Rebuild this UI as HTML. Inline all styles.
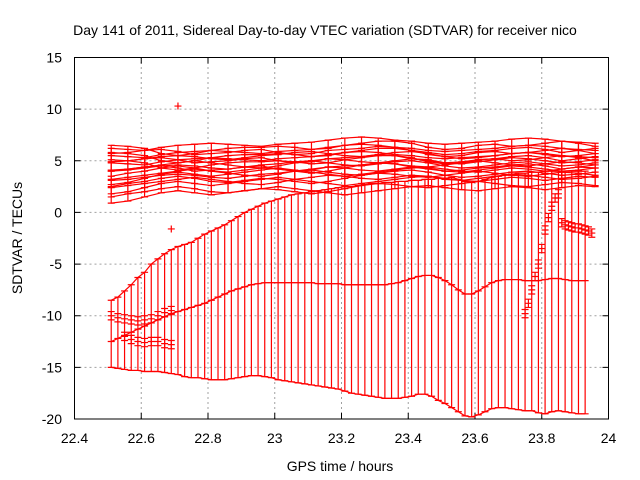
<!DOCTYPE html>
<html><head><meta charset="utf-8">
<style>
html,body{margin:0;padding:0;background:#fff;}
svg{display:block;font-family:"Liberation Sans",sans-serif;}
</style></head>
<body>
<svg id="chart" width="640" height="480" viewBox="0 0 640 480" xmlns="http://www.w3.org/2000/svg">
<rect x="0" y="0" width="640" height="480" fill="#fff"/>
<text x="325" y="35" font-size="14" text-anchor="middle" fill="#000">Day 141 of 2011, Sidereal Day-to-day VTEC variation (SDTVAR) for receiver nico</text>
<text x="340" y="471" font-size="14" text-anchor="middle" fill="#000">GPS time / hours</text>
<text x="22" y="238" font-size="14" text-anchor="middle" fill="#000" transform="rotate(-90 22 238)">SDTVAR / TECUs</text>
<g id="grid"></g>
<g id="ticks"></g>
<g id="series"></g>
<rect x="74.5" y="57.5" width="534" height="361.5" fill="none" stroke="#000" stroke-width="1"/>
</svg>
<script>
const xTicks = [22.4,22.6,22.8,23,23.2,23.4,23.6,23.8,24];
const xTickLabels = ["22.4","22.6","22.8","23","23.2","23.4","23.6","23.8","24"];
const yTicks = [-20,-15,-10,-5,0,5,10,15];
const yTickLabels = ["-20","-15","-10","-5","0","5","10","15"];

// Main wide series: x = 22.51 + 0.02*i
const mainStart = 22.51, mainStep = 0.02;
const mainCenter = [-12.5,-12.2,-11.9,-11.6,-11.3,-11.0,-10.7,-10.4,-10.1,-9.8,-9.6,-9.4,-9.2,-9.0,-8.8,-8.5,-8.2,-7.9,-7.6,-7.4,-7.2,-7.0,-6.9,-6.8,-6.8,-6.8,-6.8,-6.8,-6.8,-6.8,-6.8,-6.9,-6.9,-6.9,-6.9,-7.0,-7.0,-7.0,-7.0,-7.0,-7.0,-7.0,-6.9,-6.8,-6.6,-6.4,-6.2,-6.1,-6.1,-6.3,-6.6,-7.0,-7.5,-7.9,-7.9,-7.6,-7.2,-6.8,-6.6,-6.5,-6.5,-6.5,-6.6,-6.6,-6.6,-6.5,-6.4,-6.4,-6.5,-6.6,-6.6,-6.6];
const mainLow = [-15,-15.1,-15.2,-15.3,-15.3,-15.4,-15.4,-15.4,-15.5,-15.6,-15.7,-15.9,-16.0,-16.0,-16.1,-16.2,-16.2,-16.2,-16.1,-16.0,-15.9,-15.8,-15.8,-15.9,-16.0,-16.2,-16.3,-16.4,-16.5,-16.6,-16.7,-16.8,-16.9,-17.0,-17.1,-17.3,-17.5,-17.6,-17.7,-17.8,-17.9,-18.0,-18.0,-18.0,-17.9,-17.8,-17.6,-17.6,-17.8,-18.2,-18.5,-18.9,-19.3,-19.7,-19.8,-19.6,-19.3,-19.0,-18.9,-18.9,-19.0,-19.1,-19.2,-19.2,-19.4,-19.5,-19.3,-19.2,-19.3,-19.4,-19.5,-19.5];
const mainHigh = [-8.5,-8.2,-7.6,-7.0,-6.3,-5.8,-5.0,-4.5,-4.0,-3.6,-3.3,-3.1,-2.9,-2.5,-2.1,-1.8,-1.5,-1.2,-0.8,-0.4,0.0,0.3,0.6,0.9,1.1,1.3,1.5,1.7,1.8,1.9,2.0,2.1,2.2,2.3,2.4,2.5,2.5,2.6,2.7,2.8,2.8,2.9,2.9,3.0,3.0,3.1,3.1,3.2,3.2,3.3,3.3,3.4,3.2,3.0,2.9,3.0,3.2,3.4,3.5,3.6,3.7,3.8,3.8,3.9,3.9,4.0,4.0,4.0,4.0,4.0,4.0,4.0];

// Band series: x = 22.51 + 0.05*i
const bandStart = 22.51, bandStep = 0.05;
const band1 = [5.8,5.7,5.5,5.0,4.8,5.0,5.3,5.5,5.6,5.6,5.7,5.6,5.4,5.5,5.8,6.0,6.2,6.2,6.0,5.6,5.4,5.5,5.8,5.9,5.7,5.8,6.0,6.2,6.0,5.7];
const band2 = [4.9,5.0,5.2,5.3,5.1,4.8,4.9,5.0,5.2,5.3,5.0,4.8,4.9,5.2,5.3,5.4,5.6,5.5,5.2,5.0,4.8,4.9,5.1,5.2,5.4,5.5,5.3,5.0,5.2,5.4];
const band3 = [4.0,4.1,4.3,4.5,4.6,4.5,4.3,4.2,4.4,4.6,4.7,4.9,5.0,4.8,4.6,4.5,4.7,4.9,5.0,4.8,4.5,4.3,4.4,4.6,4.8,4.9,4.7,4.5,4.6,4.8];
const band4 = [3.2,3.4,3.6,3.8,4.0,4.2,4.0,3.8,3.6,3.5,3.7,4.0,4.2,4.4,4.3,4.1,4.0,4.2,4.4,4.3,4.0,3.9,4.1,4.3,4.5,4.4,4.2,4.0,4.1,4.3];
const band5 = [2.5,2.8,3.0,3.3,3.5,3.3,3.0,2.9,3.1,3.3,3.2,3.0,2.8,3.0,3.3,3.6,3.8,3.7,3.5,3.4,3.6,3.8,4.0,3.8,3.6,3.5,3.7,3.9,3.8,3.6];
const band6 = [1.8,2.0,2.4,2.8,3.0,2.8,2.6,2.8,3.0,3.2,3.4,3.2,3.0,2.8,2.6,2.8,3.0,3.2,3.4,3.5,3.3,3.1,3.0,3.2,3.4,3.3,3.1,3.3,3.5,3.4];
const band7 = [5.5,5.4,5.3,5.6,5.8,5.9,6.0,5.9,5.8,5.7,5.9,6.0,6.1,6.3,6.5,6.6,6.5,6.3,6.2,6.0,5.9,6.0,6.1,6.2,6.4,6.5,6.4,6.2,6.1,6.0];
const bandErr = [0.7,0.8,0.9,0.8,1.0,0.9,0.7];

// Short series near start: x = start + 0.02*i
const shortAStart = 22.51;
const shortA = [-10.0,-10.2,-10.3,-10.4,-10.5,-10.4,-10.3,-10.0,-9.7,-9.5];
const shortBStart = 22.55;
const shortB = [-12.0,-12.3,-12.5,-12.6,-12.5,-12.5,-12.7,-12.8];
const shortStep = 0.02, shortErr = 0.4;

// Late series
const lateCX = [23.75,23.76,23.77,23.78,23.79,23.80,23.81,23.82,23.83,23.84,23.85];
const lateCY = [-9.8,-8.8,-7.5,-6.2,-5.0,-3.5,-1.7,-0.5,0.6,1.4,1.8];
const lateDX = [23.86,23.87,23.88,23.89,23.90,23.91,23.92,23.93,23.94,23.95];
const lateDY = [-1.0,-1.2,-1.3,-1.4,-1.5,-1.5,-1.6,-1.7,-1.8,-2.0];
const lateErr = 0.4;

const outX = [22.71,22.69];
const outY = [10.3,-1.6];

const X0=74.5, X1=608.5, Y0=419, Y1=57.5;
function sx(v){return X0+(v-22.4)/(24-22.4)*(X1-X0);}
function sy(v){return Y0-(v+20)/35*(Y0-Y1);}
const NS="http://www.w3.org/2000/svg";
function mk(tag,attrs,parent){const e=document.createElementNS(NS,tag);for(const k in attrs)e.setAttribute(k,attrs[k]);parent.appendChild(e);return e;}

const grid=document.getElementById('grid'), ticks=document.getElementById('ticks'), ser=document.getElementById('series');
xTicks.forEach((t,i)=>{
  const x=sx(t);
  if(i>0&&i<xTicks.length-1){const g=mk('line',{x1:x,y1:Y0,x2:x,y2:Y1,stroke:'#a0a0a0','stroke-dasharray':'2,3'},grid);
  
  }
  const a=mk('path',{d:`M${x},${Y0}v-6M${x},${Y1}v6`,stroke:'#000'},ticks);
  
  
  const l=mk('text',{x:x,y:443,'font-size':14,'text-anchor':'middle',fill:'#000'},ticks);
  l.textContent=xTickLabels[i];
  
  
});
yTicks.forEach((t,i)=>{
  const y=sy(t);
  if(i>0&&i<yTicks.length-1){const g=mk('line',{x1:X0,y1:y,x2:X1,y2:y,stroke:'#a0a0a0','stroke-dasharray':'2,3'},grid);
  
  }
  const a=mk('path',{d:`M${X0},${y}h6M${X1},${y}h-6`,stroke:'#000'},ticks);
  
  
  const l=mk('text',{x:62,y:y+5,'font-size':14,'text-anchor':'end',fill:'#000'},ticks);
  l.textContent=yTickLabels[i];
  
  
});

function errbar(x,c,lo,hi,name){
  const px=sx(x), pc=sy(c), pl=sy(lo), ph=sy(hi);
  const d=`M${px},${pl}V${ph}M${px-3.5},${pl}h7M${px-3.5},${ph}h7M${px-3.5},${pc}h7M${px},${pc-3.5}v7`;
  const p=mk('path',{d:d,stroke:'#f00','stroke-width':1.2,fill:'none'},ser);
  
  
}
function trace(xs,ys,name){
  const d=xs.map((x,i)=>(i?'L':'M')+sx(x)+','+sy(ys[i])).join('');
  const p=mk('path',{d:d,stroke:'#f00','stroke-width':1.2,fill:'none'},ser);
  
  
}
const mainX = mainCenter.map((c,i)=>mainStart+mainStep*i);
trace(mainX,mainCenter,'main-center-trace');
trace(mainX,mainLow,'main-low-trace');
trace(mainX,mainHigh,'main-high-trace');
mainCenter.forEach((c,i)=>errbar(mainX[i],c,mainLow[i],mainHigh[i],'main-errorbar'));
[band1,band2,band3,band4,band5,band6,band7].forEach((b,k)=>{
  const bx=b.map((c,i)=>bandStart+bandStep*i);
  trace(bx,b,'band-center-trace');
  trace(bx,b.map(c=>c-bandErr[k]),'band-low-trace');
  trace(bx,b.map(c=>c+bandErr[k]),'band-high-trace');
  b.forEach((c,i)=>errbar(bx[i],c,c-bandErr[k],c+bandErr[k],'band-errorbar'));
});
shortA.forEach((c,i)=>errbar(shortAStart+shortStep*i,c,c-shortErr,c+shortErr,'short-a-errorbar'));
shortB.forEach((c,i)=>errbar(shortBStart+shortStep*i,c,c-shortErr,c+shortErr,'short-b-errorbar'));
lateCY.forEach((c,i)=>errbar(lateCX[i],c,c-lateErr,c+lateErr,'late-c-errorbar'));
lateDY.forEach((c,i)=>errbar(lateDX[i],c,c-lateErr,c+lateErr,'late-d-errorbar'));
outY.forEach((c,i)=>errbar(outX[i],c,c,c,'outlier-point'));
</script>
</body></html>
